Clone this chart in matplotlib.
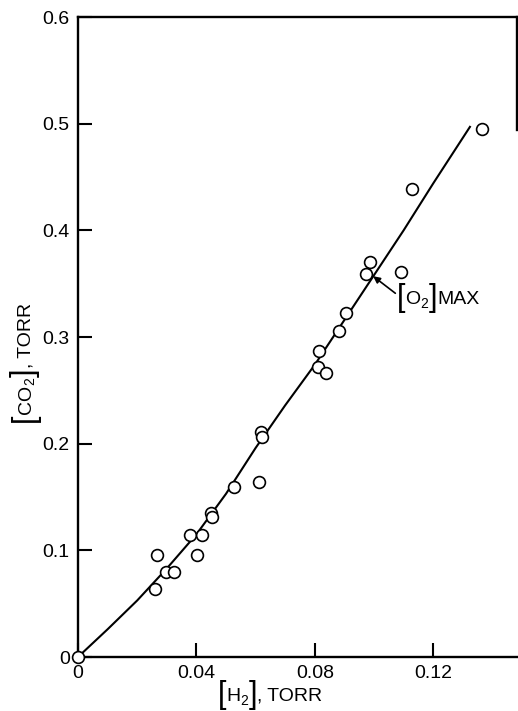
import matplotlib
matplotlib.use('Agg')
import matplotlib.pyplot as plt
from matplotlib.transforms import offset_copy

plt.rcParams['font.family'] = ['Liberation Sans', 'DejaVu Sans']

# measured points
h2 = [0.0, 0.0261, 0.0266, 0.0297, 0.0325, 0.0378, 0.0401, 0.0418, 0.0449,
      0.0452, 0.0528, 0.0610, 0.0618, 0.0620, 0.0812, 0.0815, 0.0838, 0.0881,
      0.0907, 0.0972, 0.0986, 0.1091, 0.1129, 0.1365]
co2 = [0.0, 0.0638, 0.0953, 0.0801, 0.0801, 0.1143, 0.0953, 0.1146, 0.1346,
       0.1315, 0.1595, 0.1636, 0.2109, 0.2063, 0.2717, 0.2866, 0.2664, 0.3053,
       0.3224, 0.3595, 0.3704, 0.3614, 0.4383, 0.4953]

# drawn curve
curve_x = [0, 0.01, 0.02, 0.03, 0.04, 0.05, 0.06, 0.07, 0.08, 0.09, 0.10,
           0.11, 0.12, 0.1324]
curve_y = [0, 0.026, 0.053, 0.083, 0.115, 0.153, 0.196, 0.236, 0.274, 0.316,
           0.358, 0.400, 0.444, 0.497]

xticks = [0, 0.04, 0.08, 0.12]
xticklabels = ['0', '0.04', '0.08', '0.12']
yticks = [0, 0.1, 0.2, 0.3, 0.4, 0.5, 0.6]
yticklabels = ['0', '0.1', '0.2', '0.3', '0.4', '0.5', '0.6']

o2max_point = (0.0997, 0.357)

fig = plt.figure(figsize=(5.18, 7.11), dpi=100)
ax = fig.add_axes([78 / 518, 54 / 711, 439 / 518, 640 / 711])
renderer = fig.canvas.get_renderer()


def bracket_label(x, y, inner, sub, tail, trans, vertical=False):
    # writes [inner_sub]tail with tall brackets, piece by piece
    pieces = [('[', 22, -2), (inner, 14, 0), (sub, 10, -4), (']', 22, -2),
              (tail, 14, 0)]
    adv = 0
    for txt, size, shift in pieces:
        if vertical:
            tr = offset_copy(trans, fig=fig, x=-shift, y=adv, units='dots')
            t = ax.text(x, y, txt, fontsize=size, rotation=90,
                        rotation_mode='anchor', ha='left', va='baseline',
                        transform=tr, clip_on=False)
            adv += t.get_window_extent(renderer).height
        else:
            tr = offset_copy(trans, fig=fig, x=adv, y=shift, units='dots')
            t = ax.text(x, y, txt, fontsize=size, ha='left', va='baseline',
                        transform=tr, clip_on=False)
            adv += t.get_window_extent(renderer).width


ax.plot(curve_x, curve_y, color='black', lw=1.5)
ax.plot(h2, co2, 'o', mfc='white', mec='black', mew=1.2, ms=8.5,
        clip_on=False, zorder=3)

ax.set_xlim(0, 0.1483)
ax.set_ylim(0, 0.6)

ax.set_xticks(xticks)
ax.set_xticklabels(xticklabels)
ax.set_yticks(yticks)
ax.set_yticklabels(yticklabels)
ax.tick_params(axis='both', direction='in', length=10, width=1.5,
               labelsize=14, pad=6)

for s in ['left', 'bottom', 'top', 'right']:
    ax.spines[s].set_linewidth(1.7)
ax.spines['right'].set_bounds(0.494, 0.6)

bracket_label(0.319, -0.068, 'H', '2', ', TORR', ax.transAxes)
bracket_label(-0.108, 0.367, 'CO', '2', ', TORR', ax.transAxes, vertical=True)
bracket_label(0.1078, 0.331, 'O', '2', 'MAX', ax.transData)

ax.annotate('', xy=o2max_point, xytext=(0.1072, 0.341),
            arrowprops=dict(arrowstyle='-|>', color='black', lw=1.2,
                            mutation_scale=10, shrinkA=0, shrinkB=0))

fig.savefig('out.png', dpi=100)
